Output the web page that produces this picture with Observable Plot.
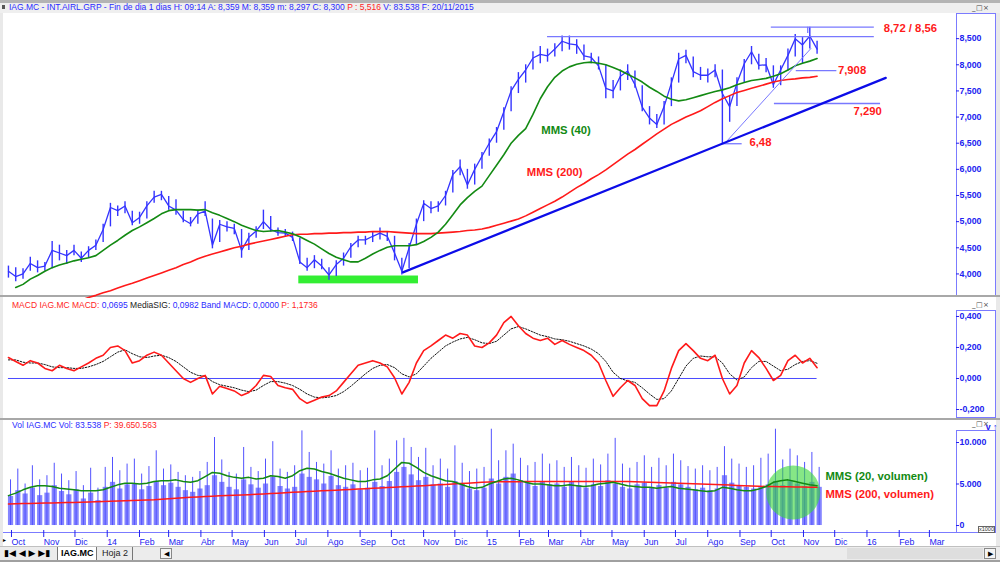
<!DOCTYPE html>
<html lang="es">
<head>
<meta charset="utf-8">
<script src="https://cdn.jsdelivr.net/npm/d3@7"></script>
<script src="https://cdn.jsdelivr.net/npm/@observablehq/plot@0.6"></script>
<style>
html,body{margin:0;padding:0;}
body{width:1000px;height:562px;position:relative;overflow:hidden;background:#e9e9e9;font-family:"Liberation Sans",Arial,sans-serif;}
.abs{position:absolute;}
.white{position:absolute;background:#fff;}
.hdr{position:absolute;white-space:nowrap;line-height:10px;}
.box{position:absolute;border:1px solid #7b7bff;box-sizing:border-box;background:#fff;}
.win{position:absolute;font-size:7px;line-height:7px;color:#444;letter-spacing:0.5px;font-family:"DejaVu Sans",sans-serif;white-space:nowrap;}
.btn{position:absolute;font-size:9px;line-height:12px;color:#000;font-family:"DejaVu Sans",sans-serif;}
</style>
</head>
<body>
<!-- window chrome -->
<div class="abs" style="left:0;top:0;width:1000px;height:3px;background:#b4b4b4"></div>
<div class="abs" style="left:0;top:3px;width:1000px;height:10px;background:#efefef"></div>
<div class="abs" style="left:2px;top:5px;width:3px;height:4px;background:#555"></div>
<div class="white" style="left:3px;top:13px;width:953px;height:282px"></div>
<div class="box" style="left:956px;top:13px;width:40px;height:283px"></div>
<div class="abs" style="left:0;top:295px;width:1000px;height:2px;background:#a8a8a8"></div>
<div class="white" style="left:3px;top:297px;width:993px;height:121px"></div>
<div class="box" style="left:956px;top:310px;width:40px;height:108px"></div>
<div class="abs" style="left:0;top:418px;width:1000px;height:2px;background:#a8a8a8"></div>
<div class="white" style="left:3px;top:420px;width:993px;height:126px"></div>
<div class="box" style="left:956px;top:430px;width:40px;height:103px"></div>
<div class="abs" style="left:3px;top:532px;width:993px;height:1px;background:#7b7bff"></div>
<div class="abs" style="left:978px;top:526px;width:17px;height:7px;border:1px solid #666;box-sizing:border-box;background:#fff;font-size:5.5px;line-height:5px;color:#333;text-align:center">x1000</div>
<div class="abs" style="left:3px;top:536px;font-size:6px;color:#000">&#9656;</div>

<div class="win" style="left:972px;top:5px">_&#9633;&#215;</div>
<div class="win" style="left:972px;top:302px">_&#9633;&#215;</div>
<div class="win" style="left:972px;top:421px">_&#9633;&#215;</div>

<!-- tab bar -->
<div class="abs" style="left:0;top:546px;width:1000px;height:14px;background:#ececec;border-top:1px solid #c0c0c0;box-sizing:border-box"></div>
<div class="abs" style="left:0;top:560px;width:1000px;height:2px;background:#a0a0a0"></div>
<div class="btn" style="left:4px;top:547px">&#9646;&#9664; &#9664; &#9654; &#9654;&#9646;</div>
<div class="abs" style="left:57px;top:547px;width:40px;height:13px;background:#fff;border-left:1px solid #777;border-right:1px solid #777;box-sizing:border-box;font-size:9px;font-weight:bold;line-height:13px;padding-left:3px">IAG.MC</div>
<div class="abs" style="left:99px;top:547px;width:34px;height:13px;border-right:1px solid #777;box-sizing:border-box;font-size:9px;line-height:13px;padding-left:3px;color:#222">Hoja 2</div>
<div class="abs" style="left:160px;top:548px;width:12px;height:11px;border:1px solid #888;box-sizing:border-box;background:#f4f4f4;font-size:7px;line-height:9px;text-align:center">&#9664;</div>
<div class="abs" style="left:847px;top:548px;width:136px;height:11px;background:#dedede"></div>
<div class="abs" style="left:984px;top:548px;width:12px;height:11px;border:1px solid #888;box-sizing:border-box;background:#f4f4f4;font-size:7px;line-height:9px;text-align:center">&#9654;</div>

<!-- panel headers -->
<div class="hdr" style="left:9px;top:2px;font-size:8.5px;color:#2a2aff">IAG.MC - INT.AIRL.GRP - Fin de dia 1 dias H: 09:14 A: 8,359 M: 8,359 m: 8,297 C: 8,300 <span style="color:#ff2424">P : 5,516</span> V: 83.538 F: 20/11/2015</div>
<div class="hdr" style="left:12px;top:300px;font-size:8.5px;color:#2a2aff"><span style="color:#ff2424">MACD IAG.MC MACD:</span> 0,0695 <span style="color:#222">MediaSIG:</span> 0,0982 Band MACD: 0,0000 <span style="color:#ff2424">P: 1,1736</span></div>
<div class="hdr" style="left:12px;top:420px;font-size:8.5px;color:#2a2aff">Vol IAG.MC Vol: 83.538 <span style="color:#ff2424">P: 39.650.563</span></div>

<script>
// ---------------- data (weekly readings, week i starts weekStart + 7*i days) ----------------
const weekStart = "2013-09-30";

const close = [4.05,3.95,4.00,4.20,4.12,4.15,4.45,4.40,4.35,4.45,
 4.30,4.45,4.55,4.85,5.27,5.21,5.30,4.98,5.08,5.30,
 5.47,5.52,5.30,5.22,5.04,4.96,5.15,5.20,4.55,4.95,
 4.90,4.87,4.45,4.70,4.82,5.00,4.85,4.79,4.78,4.70,
 4.23,4.12,4.27,4.15,3.98,4.18,4.30,4.52,4.65,4.65,
 4.72,4.78,4.72,4.40,4.05,4.50,4.95,5.35,5.25,5.30,
 5.50,5.90,6.05,5.70,6.00,6.25,6.50,6.72,7.10,7.50,
 7.72,7.90,8.13,8.20,8.17,8.30,8.45,8.40,8.38,8.17,
 8.14,7.98,7.55,7.50,7.78,7.88,7.62,7.19,6.98,6.86,
 7.20,7.65,8.11,8.18,7.87,7.80,7.80,7.90,7.45,7.20,
 7.65,8.02,8.25,7.99,8.00,7.62,7.90,8.18,8.50,8.38,
 8.55,8.30];

const high = [4.15,4.12,4.10,4.32,4.25,4.22,4.62,4.55,4.45,4.55,
 4.42,4.52,4.65,4.95,5.35,5.30,5.38,5.20,5.18,5.38,
 5.58,5.58,5.48,5.42,5.20,5.08,5.22,5.38,5.05,5.02,
 5.00,4.95,4.85,4.78,4.90,5.22,5.10,4.88,4.85,4.80,
 4.68,4.30,4.35,4.28,4.12,4.25,4.40,4.58,4.72,4.72,
 4.80,4.88,4.80,4.72,4.30,4.58,5.05,5.40,5.38,5.38,
 5.58,5.98,6.18,6.00,6.10,6.32,6.58,6.80,7.18,7.58,
 7.85,8.00,8.25,8.35,8.30,8.40,8.55,8.55,8.48,8.38,
 8.22,8.15,8.00,7.70,7.90,8.00,7.88,7.60,7.20,7.05,
 7.30,7.75,8.22,8.28,8.15,7.95,7.92,8.00,7.90,7.40,
 7.75,8.10,8.35,8.20,8.12,7.98,7.98,8.30,8.58,8.52,
 8.72,8.45];

const low = [3.92,3.85,3.90,4.05,4.02,4.05,4.10,4.25,4.18,4.35,
 4.22,4.30,4.45,4.60,4.90,5.10,5.15,4.92,4.95,5.05,
 5.35,5.40,5.22,5.12,4.98,4.90,4.95,5.10,4.48,4.60,
 4.80,4.75,4.30,4.45,4.68,4.85,4.80,4.72,4.70,4.62,
 4.18,4.05,4.10,4.08,3.88,3.95,4.15,4.30,4.50,4.55,
 4.60,4.65,4.62,4.25,3.98,4.10,4.55,5.00,5.15,5.18,
 5.30,5.55,5.88,5.62,5.70,6.00,6.25,6.50,6.75,7.10,
 7.45,7.65,7.90,8.02,8.05,8.15,8.25,8.28,8.20,8.08,
 8.02,7.90,7.35,7.35,7.50,7.70,7.55,7.10,6.85,6.78,
 6.85,7.20,7.65,8.02,7.75,7.70,7.65,7.75,6.48,6.90,
 7.20,7.65,8.00,7.90,7.85,7.55,7.60,7.88,8.15,8.02,
 8.30,8.20];

const mms40 = [null,3.74,3.80,3.90,3.97,4.05,4.12,4.17,4.21,4.25,
 4.28,4.31,4.35,4.45,4.55,4.64,4.74,4.83,4.90,4.98,
 5.06,5.15,5.21,5.23,5.23,5.23,5.22,5.23,5.17,5.12,
 5.06,5.00,4.93,4.88,4.83,4.81,4.82,4.83,4.80,4.77,
 4.71,4.64,4.57,4.48,4.39,4.32,4.27,4.23,4.23,4.30,
 4.38,4.45,4.51,4.54,4.54,4.54,4.56,4.62,4.70,4.80,
 4.95,5.13,5.32,5.46,5.58,5.68,5.88,6.08,6.28,6.50,
 6.65,6.78,7.05,7.35,7.58,7.76,7.88,7.96,8.01,8.04,
 8.05,8.03,8.00,7.95,7.89,7.82,7.75,7.67,7.57,7.49,
 7.40,7.34,7.31,7.33,7.37,7.41,7.45,7.49,7.52,7.56,
 7.62,7.66,7.70,7.72,7.74,7.78,7.83,7.90,7.98,8.03,
 8.07,8.12];

const mms200 = [null,null,null,null,null,null,null,null,null,3.45,
 3.50,3.55,3.59,3.64,3.68,3.73,3.78,3.82,3.87,3.92,
 3.97,4.02,4.07,4.12,4.18,4.23,4.29,4.34,4.38,4.42,
 4.46,4.50,4.53,4.57,4.60,4.63,4.66,4.69,4.72,4.75,
 4.76,4.76,4.77,4.77,4.78,4.78,4.79,4.79,4.80,4.80,
 4.81,4.81,4.81,4.80,4.79,4.78,4.77,4.77,4.77,4.78,
 4.79,4.80,4.81,4.83,4.84,4.86,4.89,4.93,4.97,5.01,
 5.05,5.11,5.18,5.25,5.32,5.39,5.47,5.56,5.65,5.73,
 5.82,5.90,5.99,6.09,6.19,6.29,6.38,6.48,6.58,6.68,
 6.77,6.86,6.93,7.00,7.06,7.12,7.20,7.28,7.35,7.41,
 7.47,7.51,7.55,7.59,7.63,7.67,7.70,7.72,7.73,7.75,
 7.76,7.78];

const macd = [0.135,0.11,0.085,0.115,0.10,0.065,0.05,0.085,0.065,0.05,
 0.075,0.10,0.13,0.15,0.20,0.21,0.18,0.10,0.115,0.15,
 0.17,0.15,0.10,0.05,0.0,-0.025,0.0,0.02,-0.10,-0.05,
 -0.065,-0.08,-0.11,-0.09,-0.045,0.02,0.013,-0.045,-0.06,-0.07,
 -0.13,-0.16,-0.14,-0.12,-0.11,-0.08,-0.025,0.03,0.085,0.10,
 0.115,0.10,0.075,0.005,-0.10,-0.025,0.10,0.18,0.21,0.245,
 0.28,0.26,0.29,0.28,0.21,0.20,0.23,0.28,0.36,0.40,
 0.34,0.29,0.26,0.245,0.26,0.22,0.245,0.22,0.20,0.18,
 0.15,0.10,-0.013,-0.115,-0.06,-0.013,-0.045,-0.13,-0.175,-0.175,
 -0.08,0.065,0.18,0.225,0.18,0.13,0.115,0.15,0.0,-0.10,
 -0.045,0.10,0.18,0.135,0.065,-0.013,0.02,0.115,0.15,0.10,
 0.13,0.07];

const macdSignal = [0.12,0.12,0.105,0.10,0.10,0.09,0.075,0.07,0.07,0.065,
 0.065,0.075,0.09,0.11,0.14,0.17,0.185,0.16,0.14,0.135,
 0.145,0.15,0.135,0.11,0.075,0.04,0.02,0.015,-0.02,-0.04,
 -0.05,-0.06,-0.075,-0.085,-0.075,-0.045,-0.02,-0.02,-0.03,-0.045,
 -0.07,-0.10,-0.12,-0.125,-0.12,-0.11,-0.085,-0.05,-0.01,0.03,
 0.065,0.085,0.09,0.07,0.03,0.01,0.03,0.08,0.13,0.17,
 0.21,0.235,0.255,0.265,0.25,0.23,0.225,0.24,0.28,0.32,
 0.335,0.32,0.30,0.28,0.27,0.255,0.25,0.24,0.225,0.21,
 0.19,0.16,0.11,0.04,0.0,-0.015,-0.025,-0.06,-0.10,-0.135,
 -0.13,-0.08,0.0,0.08,0.13,0.145,0.14,0.14,0.10,0.03,
 -0.01,0.01,0.07,0.11,0.11,0.08,0.05,0.06,0.09,0.11,
 0.115,0.098];

// volume in millions (axis shows thousands x1000)
const volume = [3.5,4.2,3.8,4.5,3.6,3.9,4.8,4.1,3.7,4.3,3.2,3.9,3.0,
 4.6,5.2,4.4,4.9,5.0,4.3,4.7,5.3,4.8,5.1,4.6,4.2,4.0,
 4.4,4.8,6.0,5.2,4.6,4.3,5.5,4.9,4.5,5.0,5.8,4.7,4.4,
 4.6,6.2,5.8,5.5,5.0,5.9,4.8,4.6,4.9,4.3,4.5,5.2,4.7,
 5.3,6.4,7.0,6.1,5.4,5.8,4.9,5.0,4.6,5.3,5.0,4.4,4.2,
 4.5,5.6,5.0,5.8,6.2,5.4,5.1,4.7,5.3,4.9,5.0,4.6,5.2,
 4.8,4.5,4.9,4.7,5.4,5.0,4.6,4.4,4.9,5.1,4.6,4.8,4.5,
 5.2,4.9,4.6,4.3,4.5,4.2,4.4,6.0,5.1,4.8,4.6,4.4,4.7,
 4.9,5.3,4.8,5.4,5.0,4.7,5.2,4.6];

const volumePeak = [5.5,6.8,5.0,7.2,5.5,6.0,7.5,6.2,5.4,6.5,4.8,6.9,4.5,
 7.0,8.2,6.6,7.4,8.0,6.2,7.1,9.0,6.8,7.3,6.4,6.0,5.8,
 6.5,7.6,10.6,7.9,6.4,6.2,9.4,7.0,6.5,8.0,10.1,6.8,6.4,
 7.2,11.4,8.8,7.6,7.4,9.0,6.8,7.2,7.5,6.6,6.9,11.4,7.2,
 8.0,10.2,10.5,9.4,8.2,9.3,7.2,8.0,6.8,9.6,7.5,6.5,6.8,
 7.0,11.6,7.8,9.0,9.8,8.1,7.2,7.6,8.6,7.4,7.8,7.0,8.2,
 7.2,6.9,8.0,7.3,8.6,10.5,7.4,6.9,7.6,8.4,7.0,8.1,7.2,
 8.6,7.8,7.1,6.8,7.2,6.6,7.0,9.5,8.0,7.4,7.0,7.2,8.1,
 8.6,11.6,7.9,9.2,8.4,7.6,8.8,7.0];

const volMms20 = [3.6,3.9,4.3,4.6,4.8,4.8,4.7,4.5,4.4,4.3,
 4.2,4.2,4.2,4.3,4.6,4.9,5.1,5.1,5.0,5.1,
 5.3,5.4,5.4,5.5,5.3,5.2,5.4,5.9,6.4,6.3,
 6.0,5.8,5.7,5.8,5.6,5.7,6.0,5.9,5.7,6.0,
 6.6,6.9,6.8,6.5,6.3,6.0,5.7,5.5,5.3,5.3,
 5.5,5.6,6.0,6.8,7.6,7.5,7.0,6.4,6.0,5.7,
 5.4,5.3,5.0,4.7,4.5,4.6,5.0,5.3,5.6,5.7,
 5.5,5.2,5.0,5.0,4.9,4.8,4.8,4.9,4.8,4.7,
 4.8,5.0,5.1,5.2,5.0,4.8,4.7,4.6,4.6,4.5,
 4.6,4.7,4.5,4.4,4.3,4.2,4.1,4.2,4.6,4.5,
 4.3,4.2,4.2,4.4,4.7,5.2,5.4,5.5,5.3,5.1,
 4.9,4.8];

const volMms200 = [2.60,2.62,2.64,2.66,2.68,2.70,2.72,2.74,2.76,2.78,
 2.80,2.83,2.86,2.89,2.92,2.95,2.98,3.01,3.04,3.07,
 3.10,3.16,3.22,3.28,3.34,3.40,3.45,3.50,3.54,3.58,
 3.62,3.66,3.69,3.72,3.76,3.80,3.85,3.90,3.95,4.00,
 4.05,4.10,4.14,4.18,4.22,4.26,4.30,4.35,4.40,4.44,
 4.48,4.53,4.57,4.62,4.66,4.70,4.75,4.80,4.85,4.90,
 4.95,5.00,5.05,5.10,5.15,5.20,5.25,5.26,5.27,5.28,
 5.28,5.29,5.29,5.30,5.30,5.30,5.30,5.31,5.31,5.31,
 5.31,5.30,5.30,5.30,5.30,5.30,5.27,5.24,5.21,5.18,
 5.15,5.12,5.09,5.06,5.03,5.00,4.97,4.94,4.90,4.87,
 4.83,4.80,4.77,4.74,4.70,4.69,4.67,4.66,4.64,4.63,
 4.61,4.60];

// ticks / labels
const priceTicks = [4.0,4.5,5.0,5.5,6.0,6.5,7.0,7.5,8.0,8.5];
const macdTicks = [-0.2,0,0.2,0.4];
const volTicks = [0,5,10];
const monthNames = ["Ene","Feb","Mar","Abr","May","Jun","Jul","Ago","Sep","Oct","Nov","Dic"];
const monthTickFrom = "2013-10-01", monthTickTo = "2016-03-01";

// annotations (data coordinates)
const levelPrice = [8.72, 8.54, 7.89, 7.26, 6.49];
const levelFrom = ["2015-10-03","2015-03-02","2015-10-27","2015-10-06","2015-08-16"];
const levelTo = ["2016-01-10","2016-01-10","2015-12-05","2016-01-16","2015-09-05"];
const peakDate = "2015-11-07", peakRange = [8.60, 8.72];
const trendDates = ["2014-10-14","2016-01-21"], trendPrices = [4.03, 7.75];
const guideDates = ["2015-08-19","2015-11-10"], guidePrices = [6.49, 8.31];
const zoneDates = ["2014-07-06","2014-10-29"], zonePrices = [3.81, 3.96];
const priceNoteText = ["8,72 / 8,56","7,908","7,290","6,48","MMS (40)","MMS (200)"];
const priceNoteDate = ["2016-01-19","2015-12-06","2015-12-21","2015-09-12","2015-02-24","2015-02-10"];
const priceNoteValue = [8.69, 7.89, 7.10, 6.51, 6.74, 5.94];
const volNoteText = ["MMS (20, volumen)","MMS (200, volumen)"];
const volNoteDate = ["2015-11-24","2015-11-24"];
const volNoteValue = [5.9, 3.73];
const spotDate = "2015-10-24", spotValue = 3.98;

// ---------------- build ----------------
const parse = s => new Date(s + "T00:00:00Z");
const weeks = close.map((c, i) => ({i, date: d3.utcDay.offset(parse(weekStart), 7 * i)}));
const xDomain = [new Date("2013-09-25T06:00:00Z"), new Date("2016-03-28T00:00:00Z")];
const xOpt = {type: "utc", domain: xDomain, axis: null};
const common = {width: 1000, marginLeft: 3, marginRight: 45,
  style: {background: "transparent", overflow: "visible", fontFamily: "'Liberation Sans', Arial, sans-serif"}};
const dec3 = v => v.toFixed(3).replace(".", ",");
const AX = "#2222f0", BAR = "#3434ff", GREEN = "#138a13", RED = "#ff1a1a", GUIDE = "#7878ff";
const axisStyle = {anchor: "right", tickSize: 3, tickPadding: 1, fontSize: 8.8, fontWeight: "bold", color: AX};

const levels = levelPrice.map((p, k) => ({p, a: parse(levelFrom[k]), b: parse(levelTo[k])}));
const trend = trendDates.map((d, k) => ({d: parse(d), v: trendPrices[k]}));
const guide = guideDates.map((d, k) => ({d: parse(d), v: guidePrices[k]}));
const zone = [{a: parse(zoneDates[0]), b: parse(zoneDates[1]), lo: zonePrices[0], hi: zonePrices[1]}];
const priceNotes = priceNoteText.map((t, k) => ({t, d: parse(priceNoteDate[k]), v: priceNoteValue[k], k}));
const volNotes = volNoteText.map((t, k) => ({t, d: parse(volNoteDate[k]), v: volNoteValue[k], k}));

const pricePlot = Plot.plot({
  ...common, height: 286, marginTop: 0, marginBottom: 0,
  x: xOpt, y: {domain: [3.53, 9.0], axis: null},
  marks: [
    Plot.rect(zone, {x1: "a", x2: "b", y1: "lo", y2: "hi", fill: "#33ee33"}),
    Plot.ruleX(weeks, {x: "date", y1: d => low[d.i], y2: d => high[d.i], stroke: BAR, strokeWidth: 1.4}),
    Plot.line(weeks, {x: "date", y: d => close[d.i], stroke: BAR, strokeWidth: 1.3}),
    Plot.line(weeks, {x: "date", y: d => mms200[d.i], stroke: RED, strokeWidth: 1.6, clip: true}),
    Plot.line(weeks, {x: "date", y: d => mms40[d.i], stroke: GREEN, strokeWidth: 1.6, clip: true}),
    Plot.ruleY(levels, {y: "p", x1: "a", x2: "b", stroke: GUIDE, strokeWidth: 1.3}),
    Plot.ruleX([peakDate], {x: d => parse(d), y1: peakRange[0], y2: peakRange[1], stroke: GUIDE, strokeWidth: 1.3}),
    Plot.line(guide, {x: "d", y: "v", stroke: GUIDE, strokeWidth: 1}),
    Plot.line(trend, {x: "d", y: "v", stroke: "#0c0ce8", strokeWidth: 2.2}),
    Plot.text(priceNotes, {x: "d", y: "v", text: "t", textAnchor: "start", fontSize: 11.3, fontWeight: "bold",
      fill: d => d.k === 4 ? GREEN : RED}),
    Plot.axisY(priceTicks, {...axisStyle, tickFormat: dec3})
  ]
});

const macdPlot = Plot.plot({
  ...common, height: 118, marginTop: 0, marginBottom: 0,
  x: xOpt, y: {domain: [-0.258, 0.503], axis: null},
  marks: [
    Plot.ruleY([0], {x1: () => weeks[0].date, x2: () => weeks[weeks.length - 1].date, stroke: "#4a4aff", strokeWidth: 1}),
    Plot.line(weeks, {x: "date", y: d => macdSignal[d.i], stroke: "#111", strokeWidth: 1, strokeDasharray: "1.5,1.5"}),
    Plot.line(weeks, {x: "date", y: d => macd[d.i], stroke: RED, strokeWidth: 1.6}),
    Plot.axisY(macdTicks, {...axisStyle, tickFormat: dec3})
  ]
});

const monthTicks = d3.utcMonth.range(parse(monthTickFrom), d3.utcDay.offset(parse(monthTickTo), 1));
const monthFmt = d => d.getUTCMonth() === 0 ? String(d.getUTCFullYear()).slice(2) : monthNames[d.getUTCMonth()];
const volFmt = v => v === 0 ? "0" : d3.format(",")(v * 1000).replace(/,/g, ".");

const volPlot = Plot.plot({
  ...common, height: 128, marginTop: 0, marginBottom: 18,
  x: xOpt, y: {domain: [-0.6, 12.65], axis: null},
  marks: [
    Plot.rect(weeks, {x1: "date", x2: d => d3.utcDay.offset(d.date, 5), y1: 0, y2: d => volume[d.i], fill: "#8484ff"}),
    Plot.ruleX(weeks, {x: d => d3.utcDay.offset(d.date, 2), y1: 0, y2: d => volumePeak[d.i], stroke: "#5252ff", strokeWidth: 1}),
    Plot.dot([spotDate], {x: d => parse(d), y: spotValue, r: 27, fill: "#3cd83c", fillOpacity: 0.62, stroke: "none"}),
    Plot.line(weeks, {x: "date", y: d => volMms200[d.i], stroke: RED, strokeWidth: 1.5}),
    Plot.line(weeks, {x: "date", y: d => volMms20[d.i], stroke: GREEN, strokeWidth: 1.5}),
    Plot.text(volNotes, {x: "d", y: "v", text: "t", textAnchor: "start", fontSize: 11.3, fontWeight: "bold",
      fill: d => d.k === 0 ? GREEN : RED}),
    Plot.axisY(volTicks, {...axisStyle, tickFormat: volFmt}),
    Plot.axisX(monthTicks, {anchor: "bottom", tickSize: 7, tickPadding: 1, textAnchor: "start", dx: 2,
      fontSize: 8.8, color: AX, tickFormat: monthFmt})
  ]
});

function place(svg, top) {
  svg.style.position = "absolute";
  svg.style.left = "0px";
  svg.style.top = top + "px";
  document.body.appendChild(svg);
}
place(pricePlot, 12);
place(macdPlot, 300);
place(volPlot, 420);
</script>
</body>
</html>
